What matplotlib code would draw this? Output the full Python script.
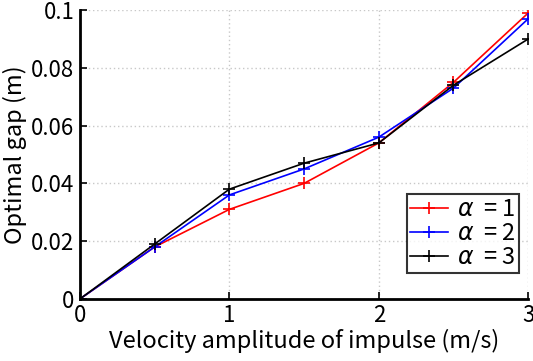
import matplotlib
matplotlib.use("Agg")
import matplotlib.pyplot as plt

plt.rcParams['font.family'] = ['Noto Sans CJK JP', 'DejaVu Sans']
plt.rcParams['mathtext.fontset'] = 'dejavusans'

velocity = [0, 0.5, 1, 1.5, 2, 2.5, 3]
gap_a1 = [0, 0.018, 0.031, 0.040, 0.054, 0.075, 0.099]
gap_a2 = [0, 0.018, 0.036, 0.045, 0.056, 0.073, 0.097]
gap_a3 = [0, 0.019, 0.038, 0.047, 0.054, 0.074, 0.090]
labels = [r"$\alpha$  = 1", r"$\alpha$  = 2", r"$\alpha$  = 3"]
colors = ["#ff0000", "#0000ff", "#000000"]

fig = plt.figure(figsize=(5.33, 3.61), dpi=100)
ax = fig.add_axes([0.150, 0.172, 0.841, 0.800])

for ys, lab, c in zip([gap_a1, gap_a2, gap_a3], labels, colors):
    ax.plot(velocity, ys, "-+", color=c, label=lab, lw=1.2, ms=9, mew=1.2)

ax.set_xlim(0, 3)
ax.set_ylim(0, 0.1)
ax.set_xticks([0, 1, 2, 3])
ax.set_yticks([0, 0.02, 0.04, 0.06, 0.08, 0.1])
ax.set_yticklabels(["0", "0.02", "0.04", "0.06", "0.08", "0.1"])
ax.grid(True, linestyle=(0, (1, 2)), color="#c8c8c8", lw=1)
ax.spines["top"].set_visible(False)
ax.spines["right"].set_visible(False)
ax.spines["left"].set_linewidth(2)
ax.spines["bottom"].set_linewidth(2)
ax.tick_params(direction="in", length=5, width=1.2, labelsize=16, pad=4)
ax.set_xlabel("Velocity amplitude of impulse (m/s)", fontsize=17, labelpad=1)
ax.set_ylabel("Optimal gap (m)", fontsize=17, labelpad=3)

leg = ax.legend(loc="lower right", bbox_to_anchor=(0.98, 0.09), fontsize=17,
                frameon=True, fancybox=False, edgecolor="black",
                handlelength=1.6, handletextpad=0.4, borderpad=0.15,
                labelspacing=0.05, borderaxespad=0)
leg.get_frame().set_linewidth(1.5)

fig.savefig("out.png", dpi=100)
